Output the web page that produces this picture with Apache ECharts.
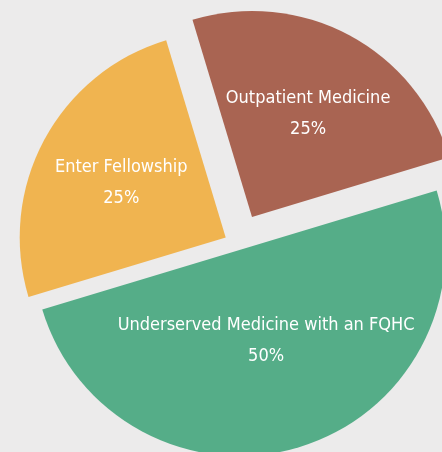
<!DOCTYPE html>
<html>
<head>
    <meta charset="utf-8">
    <title>Pie</title>
    <script src="https://cdn.jsdelivr.net/npm/echarts@6/dist/echarts.min.js"></script>
    <style>
        html, body { margin: 0; padding: 0; background: #ecebeb; }
        #chart1 { width: 442px; height: 452px; }
    </style>
</head>
<body>
<div id="chart1"></div>
<script>
    // data
    var categories = ['Outpatient Medicine', 'Underserved Medicine with an FQHC', 'Enter Fellowship'];
    var values = [25, 50, 25];

    // style
    var colors = ['#A96452', '#55AD88', '#F0B450'];
    var explode = [30.5, 6.5, 13.5];
    var labelShift = [[6, -10], [-4, -11], [-11, -5]];

    var chart = echarts.init(document.getElementById('chart1'));

    // one series per slice so every slice can be pulled out by its own distance
    var series = categories.map(function (cat, i) {
        return {
            type: 'pie',
            silent: true,
            animation: false,
            center: [237.6, 243.8],
            radius: 206,
            startAngle: 106.8,
            clockwise: true,
            avoidLabelOverlap: false,
            minShowLabelAngle: 0,
            selectedMode: 'single',
            selectedOffset: explode[i],
            labelLayout: { dx: labelShift[i][0], dy: labelShift[i][1] },
            label: {
                position: 'inside',
                formatter: '{b}\n{d}%',
                color: '#fff',
                fontFamily: '"DejaVu Sans Condensed", sans-serif',
                fontSize: 18,
                lineHeight: 31,
                align: 'center'
            },
            labelLine: { show: false },
            data: categories.map(function (c, j) {
                return {
                    name: c,
                    value: values[j],
                    selected: j === i,
                    itemStyle: { color: j === i ? colors[j] : 'rgba(0,0,0,0)' },
                    label: { show: j === i }
                };
            })
        };
    });

    chart.setOption({
        backgroundColor: '#ecebeb',
        animation: false,
        series: series
    });
</script>
</body>
</html>
